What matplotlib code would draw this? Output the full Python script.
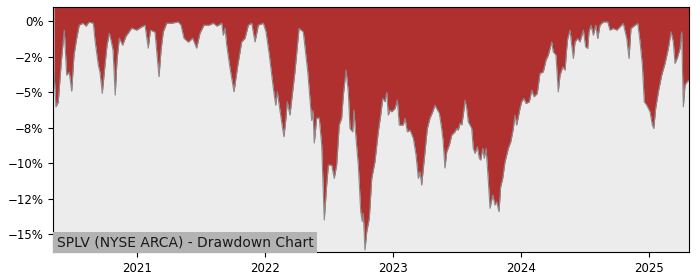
import matplotlib
matplotlib.use("Agg")
import matplotlib.pyplot as plt
from matplotlib.ticker import FuncFormatter

# Decimal-year positions and drawdown (%)
years = [
    2020.352, 2020.367, 2020.385, 2020.410, 2020.432, 2020.451, 2020.471, 2020.490,
    2020.508, 2020.529, 2020.549, 2020.578, 2020.602, 2020.625, 2020.659, 2020.672,
    2020.698, 2020.711, 2020.729, 2020.750, 2020.766, 2020.784, 2020.797, 2020.813,
    2020.830, 2020.844, 2020.862, 2020.888, 2020.914, 2020.959, 2020.998, 2021.037,
    2021.063, 2021.088, 2021.105, 2021.141, 2021.172, 2021.188, 2021.205, 2021.232,
    2021.273, 2021.323, 2021.344, 2021.367, 2021.401, 2021.435, 2021.466, 2021.492,
    2021.523, 2021.563, 2021.596, 2021.625, 2021.662, 2021.674, 2021.688, 2021.701,
    2021.727, 2021.758, 2021.784, 2021.818, 2021.844, 2021.870, 2021.896, 2021.922,
    2021.948, 2021.987, 2022.008, 2022.034, 2022.065, 2022.084, 2022.096, 2022.130,
    2022.148, 2022.164, 2022.174, 2022.195, 2022.234, 2022.266, 2022.299, 2022.334,
    2022.365, 2022.375, 2022.385, 2022.404, 2022.424, 2022.443, 2022.463, 2022.482,
    2022.495, 2022.521, 2022.541, 2022.560, 2022.580, 2022.599, 2022.612, 2022.633,
    2022.651, 2022.664, 2022.685, 2022.695, 2022.711, 2022.729, 2022.748, 2022.760,
    2022.768, 2022.781, 2022.795, 2022.815, 2022.834, 2022.859, 2022.885, 2022.904,
    2022.920, 2022.938, 2022.951, 2022.963, 2022.977, 2022.990, 2023.016, 2023.034,
    2023.049, 2023.080, 2023.094, 2023.112, 2023.133, 2023.159, 2023.180, 2023.198,
    2023.211, 2023.224, 2023.250, 2023.268, 2023.289, 2023.310, 2023.328, 2023.341,
    2023.362, 2023.380, 2023.391, 2023.406, 2023.420, 2023.440, 2023.459, 2023.484,
    2023.498, 2023.510, 2023.523, 2023.537, 2023.549, 2023.563, 2023.576, 2023.588,
    2023.615, 2023.627, 2023.641, 2023.659, 2023.674, 2023.685, 2023.701, 2023.713,
    2023.727, 2023.740, 2023.758, 2023.779, 2023.797, 2023.810, 2023.828, 2023.841,
    2023.857, 2023.875, 2023.901, 2023.920, 2023.940, 2023.953, 2023.966, 2023.992,
    2024.005, 2024.023, 2024.039, 2024.065, 2024.084, 2024.102, 2024.127, 2024.148,
    2024.174, 2024.195, 2024.213, 2024.227, 2024.240, 2024.252, 2024.273, 2024.291,
    2024.305, 2024.326, 2024.344, 2024.357, 2024.365, 2024.383, 2024.396, 2024.409,
    2024.422, 2024.443, 2024.461, 2024.487, 2024.505, 2024.521, 2024.531, 2024.547,
    2024.565, 2024.584, 2024.599, 2024.617, 2024.643, 2024.677, 2024.695, 2024.721,
    2024.748, 2024.773, 2024.799, 2024.826, 2024.844, 2024.859, 2024.891, 2024.912,
    2024.930, 2024.948, 2024.963, 2024.982, 2025.008, 2025.026, 2025.037, 2025.052,
    2025.073, 2025.099, 2025.125, 2025.151, 2025.172, 2025.190, 2025.203, 2025.224,
    2025.242, 2025.255, 2025.268, 2025.281, 2025.297, 2025.313,
]
drawdown = [
    -3.57, -6.04, -5.70, -2.75, -0.63, -3.80, -3.59, -4.93,
    -2.39, -1.20, -0.28, -0.14, -0.35, -0.07, -0.14, -1.34,
    -3.10, -3.59, -5.09, -3.10, -1.69, -0.85, -1.34, -2.04,
    -5.21, -2.75, -1.20, -1.69, -1.06, -0.49, -0.63, -0.40,
    -0.28, -1.90, -0.63, -0.77, -3.92, -2.04, -0.77, -0.14,
    -0.14, -0.05, -0.28, -1.20, -1.48, -1.20, -1.90, -0.85,
    -0.28, -0.28, -0.14, -0.35, -0.14, -0.99, -0.49, -1.69,
    -3.31, -4.98, -3.31, -1.46, -1.20, -0.28, -0.14, -1.46,
    -0.28, -0.14, -0.75, -2.39, -4.72, -5.92, -4.98, -7.09,
    -8.15, -6.83, -5.68, -6.62, -3.57, -0.51, -0.75, -3.57,
    -7.00, -6.30, -8.59, -6.83, -6.83, -8.73, -14.01, -11.55,
    -10.14, -10.14, -11.08, -10.14, -7.32, -6.83, -5.21, -3.45,
    -4.98, -7.56, -7.80, -6.27, -8.26, -10.14, -13.43, -14.13,
    -13.54, -16.13, -14.84, -13.89, -11.08, -9.91, -7.80, -6.62,
    -5.44, -5.68, -5.02, -6.62, -6.27, -6.39, -6.15, -5.56,
    -7.32, -7.32, -6.85, -7.80, -7.68, -8.26, -9.44, -11.08,
    -10.61, -11.55, -9.20, -7.56, -6.83, -6.39, -5.92, -6.15,
    -6.50, -7.56, -8.38, -10.35, -9.20, -8.73, -8.03, -7.80,
    -7.56, -7.68, -7.20, -7.32, -6.62, -5.56, -6.15, -7.09,
    -7.56, -8.96, -9.32, -8.85, -9.67, -9.79, -8.96, -9.67,
    -8.96, -10.61, -13.19, -12.25, -12.96, -12.73, -13.43, -11.67,
    -11.08, -9.91, -8.96, -8.50, -7.56, -6.62, -7.32, -6.15,
    -5.68, -5.44, -5.80, -5.68, -4.86, -5.33, -5.09, -3.68,
    -3.57, -2.75, -2.39, -1.92, -1.46, -2.16, -2.39, -4.98,
    -3.80, -3.22, -3.45, -1.92, -1.22, -0.63, -1.69, -2.63,
    -1.46, -1.22, -1.46, -0.63, -1.81, -1.92, -0.75, -0.28,
    -0.99, -0.28, -1.22, -0.28, -0.05, -0.05, -0.63, -0.51,
    -0.63, -0.40, -0.16, -1.22, -2.63, -0.51, -0.28, -0.16,
    -1.46, -3.10, -5.68, -5.92, -6.39, -7.32, -7.56, -6.15,
    -4.98, -3.80, -2.98, -1.92, -0.75, -1.46, -2.98, -2.51,
    -1.92, -0.75, -6.04, -4.51, -4.27, -4.15,
]
year_ticks = [2021, 2022, 2023, 2024, 2025]
year_labels = ["2021", "2022", "2023", "2024", "2025"]
pct_ticks = [0, -2.5, -5, -7.5, -10, -12.5, -15]
title = "SPLV (NYSE ARCA) - Drawdown Chart"

fig = plt.figure(figsize=(7, 2.8), dpi=100)
ax = fig.add_axes([0.0757, 0.1, 0.9086, 0.875])
ax.set_facecolor("#ececec")

ylim = (-16.27, 1.0)
ax.fill_between(years, drawdown, ylim[1] + 1, color="#b03030", linewidth=0)
ax.plot(years, drawdown, color="#8a8a8a", linewidth=0.8)

ax.set_xlim(2020.344, 2025.3125)
ax.set_ylim(*ylim)
ax.set_xticks(year_ticks)
ax.set_xticklabels(year_labels)
ax.set_yticks(pct_ticks)
ax.yaxis.set_major_formatter(FuncFormatter(lambda v, p: f"{v:.0f}%".replace("-", "\u2212")))
ax.tick_params(labelsize=8.5, length=3.5)

ax.text(0.006, 0.012, title, transform=ax.transAxes, ha="left", va="bottom",
        fontsize=10, color="#1a1a1a",
        bbox=dict(facecolor="#b3b3b3", edgecolor="none", pad=2.5))

fig.savefig("out.png", dpi=100)
